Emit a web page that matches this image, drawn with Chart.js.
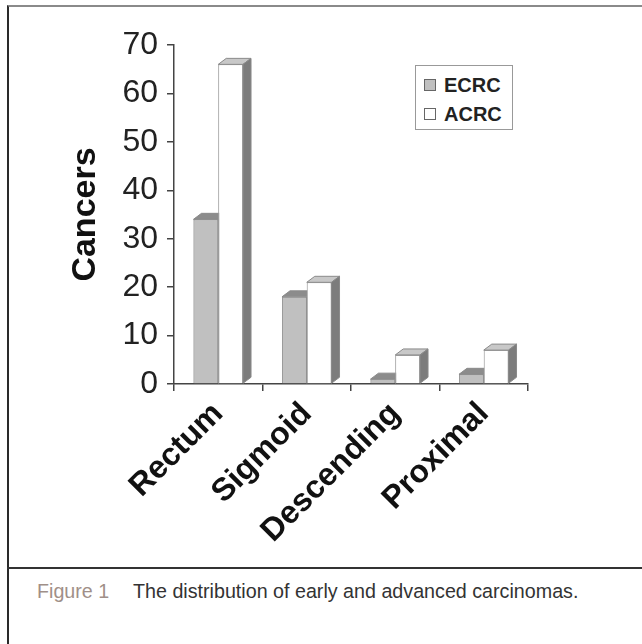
<html>
<head>
    <title>Distribution of early and advanced carcinomas</title>
    <script src="https://cdn.jsdelivr.net/npm/chart.js"></script>
    <style>
        body { margin: 0; width: 642px; height: 644px; background: #fff; position: relative; overflow: hidden; font-family: "Liberation Sans", Arial, sans-serif; }
        #frame { position: absolute; left: 7px; top: 5px; width: 640px; height: 650px; border-top: 2px solid #8a8a8a; border-left: 2px solid #2a2a2a; }
        #divider { position: absolute; left: 7px; top: 567px; width: 640px; border-top: 2px solid #333; }
        #wrap { position: absolute; left: 10px; top: 10px; width: 630px; height: 555px; }
        #legend { position: absolute; left: 415px; top: 65px; width: 96px; height: 63px; border: 1.5px solid #999; background: #fff; }
        .item { position: absolute; left: 8px; font-weight: bold; font-size: 20px; color: #222; line-height: 20px; }
        .item span { display: inline-block; width: 10px; height: 10px; border: 1px solid #666; margin-right: 8px; vertical-align: 1px; }
        .cap { position: absolute; top: 580px; font-size: 19.7px; color: #333; white-space: nowrap; }
        #figno { left: 37px; color: #a08f88; }
        #captext { left: 133px; }
    </style>
</head>
<body>
    <div id="frame"></div>
    <div id="divider"></div>
    <div id="wrap"><canvas id="cancerChart"></canvas></div>
    <div id="legend">
        <div class="item" style="top:9px"><span style="background:#c0c0c0"></span>ECRC</div>
        <div class="item" style="top:38px"><span style="background:#fff"></span>ACRC</div>
    </div>
    <div class="cap" id="figno">Figure 1</div>
    <div class="cap" id="captext">The distribution of early and advanced carcinomas.</div>

    <script>
        const sites = ['Rectum', 'Sigmoid', 'Descending', 'Proximal'];
        const ecrc = [34, 18, 1, 2];
        const acrc = [66, 21, 6, 7];
        const yTicks = [0, 10, 20, 30, 40, 50, 60, 70];

        const DX = 8, DY = 6;

        // fake 3d: redraw each bar front, then its top and right side
        const depth3d = {
            id: 'depth3d',
            afterDatasetsDraw(chart) {
                const ctx = chart.ctx;
                chart.data.datasets.forEach((ds, i) => {
                    const meta = chart.getDatasetMeta(i);
                    meta.data.forEach(bar => {
                        const p = bar.getProps(['x', 'y', 'base', 'width'], true);
                        const l = p.x - p.width / 2, r = p.x + p.width / 2;
                        bar.draw(ctx);
                        ctx.save();
                        ctx.lineWidth = 1;
                        ctx.strokeStyle = '#8a8a8a';
                        ctx.beginPath();
                        ctx.moveTo(l, p.y);
                        ctx.lineTo(l + DX, p.y - DY);
                        ctx.lineTo(r + DX, p.y - DY);
                        ctx.lineTo(r, p.y);
                        ctx.closePath();
                        ctx.fillStyle = ds.topColor;
                        ctx.fill();
                        ctx.stroke();
                        ctx.beginPath();
                        ctx.moveTo(r, p.y);
                        ctx.lineTo(r + DX, p.y - DY);
                        ctx.lineTo(r + DX, p.base - DY);
                        ctx.lineTo(r, p.base);
                        ctx.closePath();
                        ctx.fillStyle = ds.sideColor;
                        ctx.fill();
                        ctx.stroke();
                        ctx.restore();
                    });
                });
            }
        };

        new Chart(document.getElementById('cancerChart').getContext('2d'), {
            type: 'bar',
            data: {
                labels: sites,
                datasets: [
                    { label: 'ECRC', data: ecrc, backgroundColor: '#c0c0c0', borderColor: '#9a9a9a', borderWidth: 1,
                      topColor: '#8c8c8c', sideColor: '#7c7c7c' },
                    { label: 'ACRC', data: acrc, backgroundColor: '#ffffff', borderColor: '#a8a8a8', borderWidth: 1,
                      topColor: '#c8c8c8', sideColor: '#7c7c7c' }
                ]
            },
            options: {
                responsive: true,
                maintainAspectRatio: false,
                animation: false,
                layout: { padding: { left: 0, right: 112, top: 35, bottom: 0 } },
                plugins: { legend: { display: false }, tooltip: { enabled: false } },
                datasets: { bar: { categoryPercentage: 0.56, barPercentage: 1.0 } },
                scales: {
                    x: {
                        grid: { display: true, drawOnChartArea: false, offset: true, color: '#444', tickLength: 7, lineWidth: 1.5 },
                        border: { color: '#444', width: 1.5 },
                        ticks: { minRotation: 45, maxRotation: 45, color: '#111', padding: 4,
                                 font: { family: '"Liberation Sans", Arial', size: 32, weight: 'bold' } },
                        afterFit(scale) { scale.height = 181; }
                    },
                    y: {
                        min: 0, max: 70,
                        afterBuildTicks(scale) { scale.ticks = yTicks.map(v => ({ value: v })); },
                        grid: { display: true, drawOnChartArea: false, color: '#444', tickLength: 7, lineWidth: 1.5 },
                        border: { color: '#444', width: 1.5 },
                        ticks: { color: '#222', padding: 9, font: { family: '"Liberation Sans", Arial', size: 32 } },
                        title: { display: true, text: 'Cancers', color: '#111', padding: { top: 55, bottom: 0 },
                                 font: { family: '"Liberation Sans", Arial', size: 34, weight: 'bold' } },
                        afterFit(scale) { scale.width = 164; }
                    }
                }
            },
            plugins: [depth3d]
        });
    </script>
</body>
</html>
